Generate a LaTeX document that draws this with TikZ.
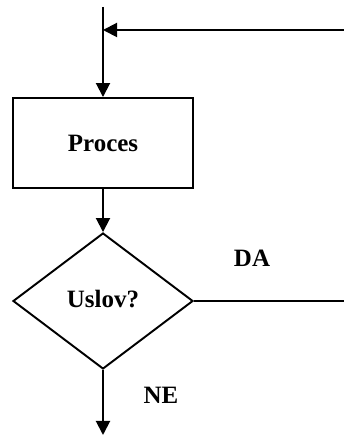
\documentclass[tikz,border=0pt]{standalone}
\usepackage{tikz}
\usetikzlibrary{positioning,shapes.geometric,arrows.meta}
\usepackage{fontspec}
\setmainfont{Liberation Serif}

\tikzset{
    blok/.style={rectangle, draw, line width=1.1pt, minimum width=3.6cm, minimum height=1.8cm, inner sep=0pt},
    uslov/.style={diamond, draw, line width=1.1pt, minimum width=3.6cm, minimum height=2.72cm, inner sep=0pt},
    natpis/.style={inner sep=0pt},
    veza/.style={line width=1.1pt},
    strelica/.style={line width=1.1pt, -{Triangle[length=0.28cm, width=0.28cm]}}
}

\begin{document}
\begin{tikzpicture}[font=\fontsize{14.2}{17}\selectfont\bfseries]
    \useasboundingbox (0, 0) rectangle (6.88, 8.7);

    % Čvorovi
    \coordinate (ulaz) at (2.06, 8.56);
    \coordinate (spoj) at (2.06, 8.1);
    \coordinate (povratak) at (6.88, 8.1);
    \node[blok] (proces) at (2.06, 5.84) {Proces};
    \node[uslov] (usl) at (2.06, 2.68) {\raisebox{3pt}{Uslov?}};
    \coordinate (da) at (6.88, 2.68);
    \coordinate (izlaz) at (2.06, 0);

    \node[natpis] (tda) at (5.04, 3.54) {DA};
    \node[natpis] (tne) at (3.22, 0.8) {NE};

    % Veze
    \draw[strelica] (ulaz) -- (proces.north);
    \draw[strelica] (povratak) -- (spoj);
    \draw[strelica] (proces.south) -- (usl.north);
    \draw[veza] (usl.east) -- (da);
    \draw[strelica] (usl.south) -- (izlaz);
\end{tikzpicture}
\end{document}
